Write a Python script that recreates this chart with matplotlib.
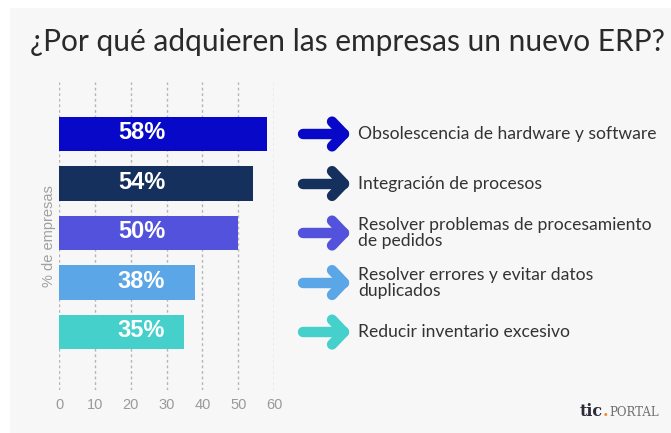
import matplotlib.pyplot as plt
from matplotlib.patches import Rectangle

# data
reasons = ["Obsolescencia de hardware y software",
           "Integración de procesos",
           "Resolver problemas de procesamiento\nde pedidos",
           "Resolver errores y evitar datos\nduplicados",
           "Reducir inventario excesivo"]
pct = [58, 54, 50, 38, 35]
colors = ["#0808c8", "#15305c", "#5252dc", "#5aa6e6", "#45d0cc"]
xticks = [0, 10, 20, 30, 40, 50, 60]

W, H = 671, 433
fig = plt.figure(figsize=(W / 100, H / 100), dpi=100)
fig.patch.set_facecolor("white")
bg = Rectangle((10 / W, 0), 1, 1 - 8 / H, transform=fig.transFigure,
               facecolor="#f7f7f7", edgecolor="none", zorder=-10)
fig.add_artist(bg)

ax = fig.add_axes([59 / W, 1 - 390 / H, 215 / W, 308 / H])
ax.set_facecolor("none")
ypos = list(range(len(pct)))
ax.barh(ypos, pct, height=0.69, color=colors, zorder=2)
ax.set_xlim(0, 60)
ax.set_ylim(4 + 1.17, -1.05)

for x in xticks:
    ax.axvline(x, color="#b5b5b5", lw=1, ls=(0, (2, 2)), zorder=1)

for y, v in zip(ypos, pct):
    ax.text(23, y - 0.03, f"{v}%", color="white", fontsize=17, fontweight="bold",
            family="Liberation Sans", ha="center", va="center", zorder=3)

ax.set_xticks(xticks)
ax.set_xticklabels([str(t) for t in xticks], color="#9a9a9a", fontsize=10.5, family="Liberation Sans")
ax.tick_params(axis="x", length=0, pad=6)
ax.set_yticks([])
for s in ax.spines.values():
    s.set_visible(False)
ax.set_ylabel("% de empresas", color="#a0a0a0", fontsize=10.5, family="Liberation Sans", labelpad=2)

# arrows (thick shaft + chevron head, round caps) and reason labels
trans = ax.get_yaxis_transform()
for y, c, txt in zip(ypos, colors, reasons):
    ax.plot([1.135, 1.325], [y, y], transform=trans, color=c, lw=7.5,
            solid_capstyle="round", clip_on=False)
    ax.plot([1.27, 1.325, 1.27], [y - 0.25, y, y + 0.25], transform=trans, color=c, lw=7.5,
            solid_capstyle="round", solid_joinstyle="round", clip_on=False)
    ax.text(1.39, y, txt, transform=trans, fontsize=12.6,
            family="Lato", color="#333333", va="center", ha="left", linespacing=1.0)

fig.text(30 / W, 1 - 42 / H, "¿Por qué adquieren las empresas un nuevo ERP?",
         fontsize=21.5, family="Lato", color="#2a2a2a", va="center", ha="left")

# watermark
fig.text(580 / W, 1 - 412 / H, "tic", fontsize=11.5, family="DejaVu Serif", fontweight="bold",
         color="#2b2b3a", va="center", ha="left")
fig.text(603 / W, 1 - 412 / H, ".", fontsize=11.5, family="DejaVu Serif", fontweight="bold",
         color="#f08a24", va="center", ha="left")
fig.text(609 / W, 1 - 412 / H, "PORTAL", fontsize=8.5, family="DejaVu Serif",
         color="#707070", va="center", ha="left")

fig.savefig("out.png", dpi=100)
